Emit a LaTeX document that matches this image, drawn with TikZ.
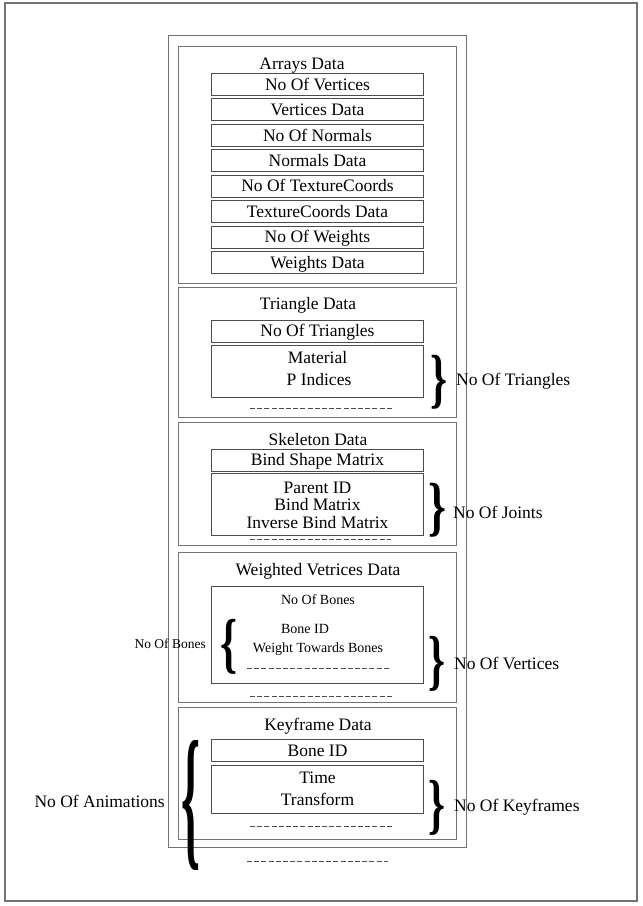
\documentclass[tikz,border=0pt]{standalone}
\usepackage{fontspec}
\setmainfont{Liberation Serif}
\usepackage{graphicx}
\newcommand\mainfs{\fontsize{17.5bp}{20bp}\selectfont}
\newcommand\smallfs{\fontsize{14bp}{16bp}\selectfont}
\newcommand\tinyfs{\fontsize{13.5bp}{15bp}\selectfont}
\tikzset{
  outerframe/.style={draw=black!55, line width=1.5bp},
  sect/.style={draw=black!55, line width=1bp},
  box/.style={draw=black!70, line width=1bp, minimum width=211.6bp, inner sep=0, font=\mainfs, text height=13bp, text depth=1.5bp},
  lbl/.style={inner sep=0, font=\mainfs, text height=13bp, text depth=1.5bp},
  sml/.style={inner sep=0, font=\smallfs, text height=10bp, text depth=0.8bp},
  tny/.style={inner sep=0, font=\tinyfs, text height=10bp, text depth=0.8bp},
  dashline/.style={draw=black!70, line width=1bp, dash pattern=on 5bp off 2.2bp},
  bracenode/.style={inner sep=0, outer sep=0, font=\mainfs\bfseries},
}
\begin{document}
\begin{tikzpicture}[x=1bp, y=-1bp]
\useasboundingbox (0,0) rectangle (643,906);
% frames
\draw[outerframe] (5,3) rectangle (637,901);
\draw[sect] (168,35) rectangle (466.7,847.3);
\draw[sect] (178,46) rectangle (456.7,283.3);
\draw[sect] (178,287.3) rectangle (456.7,417.3);
\draw[sect] (178,422.7) rectangle (456.7,545.5);
\draw[sect] (178,552.7) rectangle (456.7,702.5);
\draw[sect] (178,707.3) rectangle (456.7,839.3);

% Arrays Data
\node[lbl] (arr) at (302,64) {Arrays Data};
\node[box, minimum height=22bp] (a1) at (317.5,84.3) {No Of Vertices};
\node[box, minimum height=22bp] (a2) at (317.5,109.78) {Vertices Data};
\node[box, minimum height=22bp] (a3) at (317.5,135.26) {No Of Normals};
\node[box, minimum height=22bp] (a4) at (317.5,160.74) {Normals Data};
\node[box, minimum height=22bp] (a5) at (317.5,186.22) {No Of TextureCoords};
\node[box, minimum height=22bp] (a6) at (317.5,211.7) {TextureCoords Data};
\node[box, minimum height=22bp] (a7) at (317.5,237.18) {No Of Weights};
\node[box, minimum height=22bp] (a8) at (317.5,262.66) {Weights Data};

% Triangle Data
\node[lbl] (tri) at (308,304) {Triangle Data};
\node[box, minimum height=22.3bp] (t1) at (317.5,331.2) {No Of Triangles};
\node[box, minimum height=52bp] (t2) at (317.5,371.7) {};
\node[lbl] (mat) at (317.5,357.7) {Material};
\node[lbl] (pind) at (319,380) {P Indices};
\coordinate (td1) at (250,408.3);
\coordinate (td2) at (392,408.3);
\draw[dashline] (td1) -- (td2);
\node[bracenode] (tbr) at (438.5,382) {\resizebox*{17bp}{54bp}{\}}};
\node[lbl, anchor=west] (tlab) at (456,380) {No Of Triangles};

% Skeleton Data
\node[lbl] (skel) at (318,440) {Skeleton Data};
\node[box, minimum height=22bp] (s1) at (317.5,460) {Bind Shape Matrix};
\node[box, minimum height=61.7bp] (s2) at (317.5,504.2) {};
\node[lbl] (pid) at (317.5,487.3) {Parent ID};
\node[lbl] (bm) at (317.5,504.6) {Bind Matrix};
\node[lbl] (ibm) at (317.5,522.3) {Inverse Bind Matrix};
\coordinate (sd1) at (250,539.5);
\coordinate (sd2) at (391,539.5);
\draw[dashline] (sd1) -- (sd2);
\node[bracenode] (sbr) at (437.5,510) {\resizebox*{18bp}{54bp}{\}}};
\node[lbl, anchor=west] (slab) at (453,513) {No Of Joints};

% Weighted Vertices Data
\node[lbl] (wv) at (318,569.3) {Weighted Vetrices Data};
\node[box, minimum height=97.3bp] (w1) at (317.5,634.7) {};
\node[sml] (nob) at (318,600) {No Of Bones};
\node[bracenode] (wbl) at (229,646.5) {\resizebox*{17bp}{55bp}{\{}};
\node[tny, anchor=east] (nobl) at (206,644) {No Of Bones};
\node[sml] (bid) at (305,629.3) {Bone ID};
\node[sml] (wtb) at (318,647.7) {Weight Towards Bones};
\coordinate (wd1) at (247,668);
\coordinate (wd2) at (389,668);
\draw[dashline] (wd1) -- (wd2);
\node[bracenode] (wbr) at (436.5,664.3) {\resizebox*{17bp}{55bp}{\}}};
\node[lbl, anchor=west] (wlab) at (454,663.3) {No Of Vertices};
\coordinate (wd3) at (250,696);
\coordinate (wd4) at (392,696);
\draw[dashline] (wd3) -- (wd4);

% Keyframe Data
\node[lbl] (kf) at (318,725) {Keyframe Data};
\node[box, minimum height=22.4bp] (k1) at (317.5,750.5) {Bone ID};
\node[box, minimum height=48.3bp] (k2) at (317.5,789.2) {};
\node[lbl] (time) at (317.5,777.3) {Time};
\node[lbl] (trf) at (317.5,800) {Transform};
\coordinate (kd1) at (250,826);
\coordinate (kd2) at (392,826);
\draw[dashline] (kd1) -- (kd2);
\node[bracenode] (kbr) at (436.5,807.5) {\resizebox*{17bp}{55bp}{\}}};
\node[lbl, anchor=west] (klab) at (454,806) {No Of Keyframes};
\node[bracenode] (abr) at (191,805) {\resizebox*{19bp}{130bp}{\{}};
\node[lbl, anchor=east] (alab) at (165,801.7) {No Of Animations};
\coordinate (ad1) at (247,861.7);
\coordinate (ad2) at (388,861.7);
\draw[dashline] (ad1) -- (ad2);
\end{tikzpicture}
\end{document}
